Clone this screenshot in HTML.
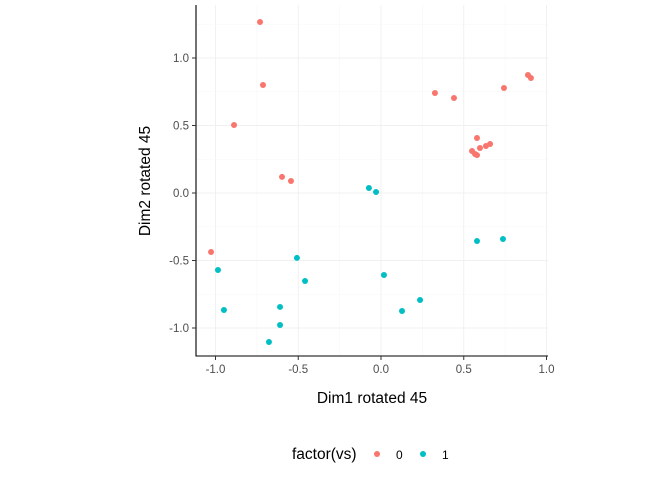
<!DOCTYPE html>
<html><head><meta charset="utf-8"><style>
body{margin:0;background:#fff;font-family:"Liberation Sans",sans-serif}
svg text{font-family:"Liberation Sans",sans-serif}
</style></head><body>
<svg id="chart" width="672" height="480" xmlns="http://www.w3.org/2000/svg">
<rect width="672" height="480" fill="#fff"/>
<g id="grid"></g>
<g id="points"></g>
<line x1="196" y1="5" x2="196" y2="356.5" stroke="#000" stroke-width="1.1"/>
<line x1="195.5" y1="356" x2="548" y2="356" stroke="#000" stroke-width="1.1"/>
<g id="ticks"></g>
<text x="372" y="403" font-size="15.5" text-anchor="middle" fill="#000">Dim1 rotated 45</text>
<text transform="translate(150,181) rotate(-90)" font-size="15.5" text-anchor="middle" fill="#000">Dim2 rotated 45</text>
<g>
<text x="292" y="459" font-size="15.5" fill="#000">factor(vs)</text>
<circle cx="377" cy="454" r="3" fill="#F8766D"/>
<text x="396" y="459" font-size="12" fill="#000">0</text>
<circle cx="423" cy="454" r="3" fill="#00BFC4"/>
<text x="442" y="459" font-size="12" fill="#000">1</text>
</g>
</svg>
<script>
const xTicks=[-1.0,-0.5,0.0,0.5,1.0];
const yTicks=[-1.0,-0.5,0.0,0.5,1.0];
const xTickLabels=["-1.0","-0.5","0.0","0.5","1.0"];
const yTickLabels=["-1.0","-0.5","0.0","0.5","1.0"];
const group0X=[-0.731,-0.713,-0.888,-0.598,-0.544,-1.027,0.326,0.441,0.743,0.888,0.906,0.58,0.55,0.568,0.58,0.598,0.634,0.659];
const group0Y=[1.267,0.8,0.504,0.119,0.089,-0.437,0.741,0.704,0.778,0.874,0.852,0.407,0.311,0.289,0.281,0.333,0.348,0.363];
const group1X=[-0.073,-0.03,-0.985,-0.949,-0.508,-0.459,-0.61,-0.61,-0.677,0.018,0.127,0.236,0.58,0.737];
const group1Y=[0.037,0.007,-0.57,-0.867,-0.481,-0.652,-0.844,-0.978,-1.104,-0.607,-0.874,-0.793,-0.356,-0.341];
const NS="http://www.w3.org/2000/svg";
const sx=v=>381+v*165.5, sy=v=>193-v*135;
const X0=196,X1=548,Y0=5,Y1=356;
const grid=document.getElementById('grid'),ticks=document.getElementById('ticks'),pts=document.getElementById('points');
function mk(t,a,p){const e=document.createElementNS(NS,t);for(const k in a)e.setAttribute(k,a[k]);p.appendChild(e);return e;}
for(let i=0;i<xTicks.length;i++){
 const x=sx(xTicks[i]);
 const g=mk('line',{x1:x,x2:x,y1:Y0,y2:Y1,stroke:'#f0f0f0','stroke-width':0.9},grid);
 
 
 if(i<xTicks.length-1){const xm=sx((xTicks[i]+xTicks[i+1])/2);
  const m=mk('line',{x1:xm,x2:xm,y1:Y0,y2:Y1,stroke:'#f7f7f7','stroke-width':0.6},grid);
  
  }
 const t=mk('line',{x1:x,x2:x,y1:Y1,y2:Y1+4,stroke:'#333'},ticks);
 
 
 const l=mk('text',{x:x,y:Y1+17,'font-size':11.5,'text-anchor':'middle',fill:'#4d4d4d'},ticks);l.textContent=xTickLabels[i];
 
 
}
for(let i=0;i<yTicks.length;i++){
 const y=sy(yTicks[i]);
 const g=mk('line',{x1:X0,x2:X1,y1:y,y2:y,stroke:'#f0f0f0','stroke-width':0.9},grid);
 
 
 if(i<yTicks.length-1){const ym=sy((yTicks[i]+yTicks[i+1])/2);
  const m=mk('line',{x1:X0,x2:X1,y1:ym,y2:ym,stroke:'#f7f7f7','stroke-width':0.6},grid);
  
  }
 if(i==yTicks.length-1){[sy(yTicks[i]+0.25)].forEach(ym=>{if(ym>Y0){const m=mk('line',{x1:X0,x2:X1,y1:ym,y2:ym,stroke:'#f7f7f7','stroke-width':0.6},grid);
  
  }});}
 const t=mk('line',{x1:X0-4,x2:X0,y1:y,y2:y,stroke:'#333'},ticks);
 
 
 const l=mk('text',{x:X0-7,y:y+4,'font-size':11.5,'text-anchor':'end',fill:'#4d4d4d'},ticks);l.textContent=yTickLabels[i];
 
 
}
function drawPts(xs,ys,col,name){for(let i=0;i<xs.length;i++){
 const c=mk('circle',{cx:sx(xs[i]),cy:sy(ys[i]),r:3,fill:col},pts);
 
 }}
drawPts(group0X,group0Y,'#F8766D','point-vs0');
drawPts(group1X,group1Y,'#00BFC4','point-vs1');
</script>
</body></html>
